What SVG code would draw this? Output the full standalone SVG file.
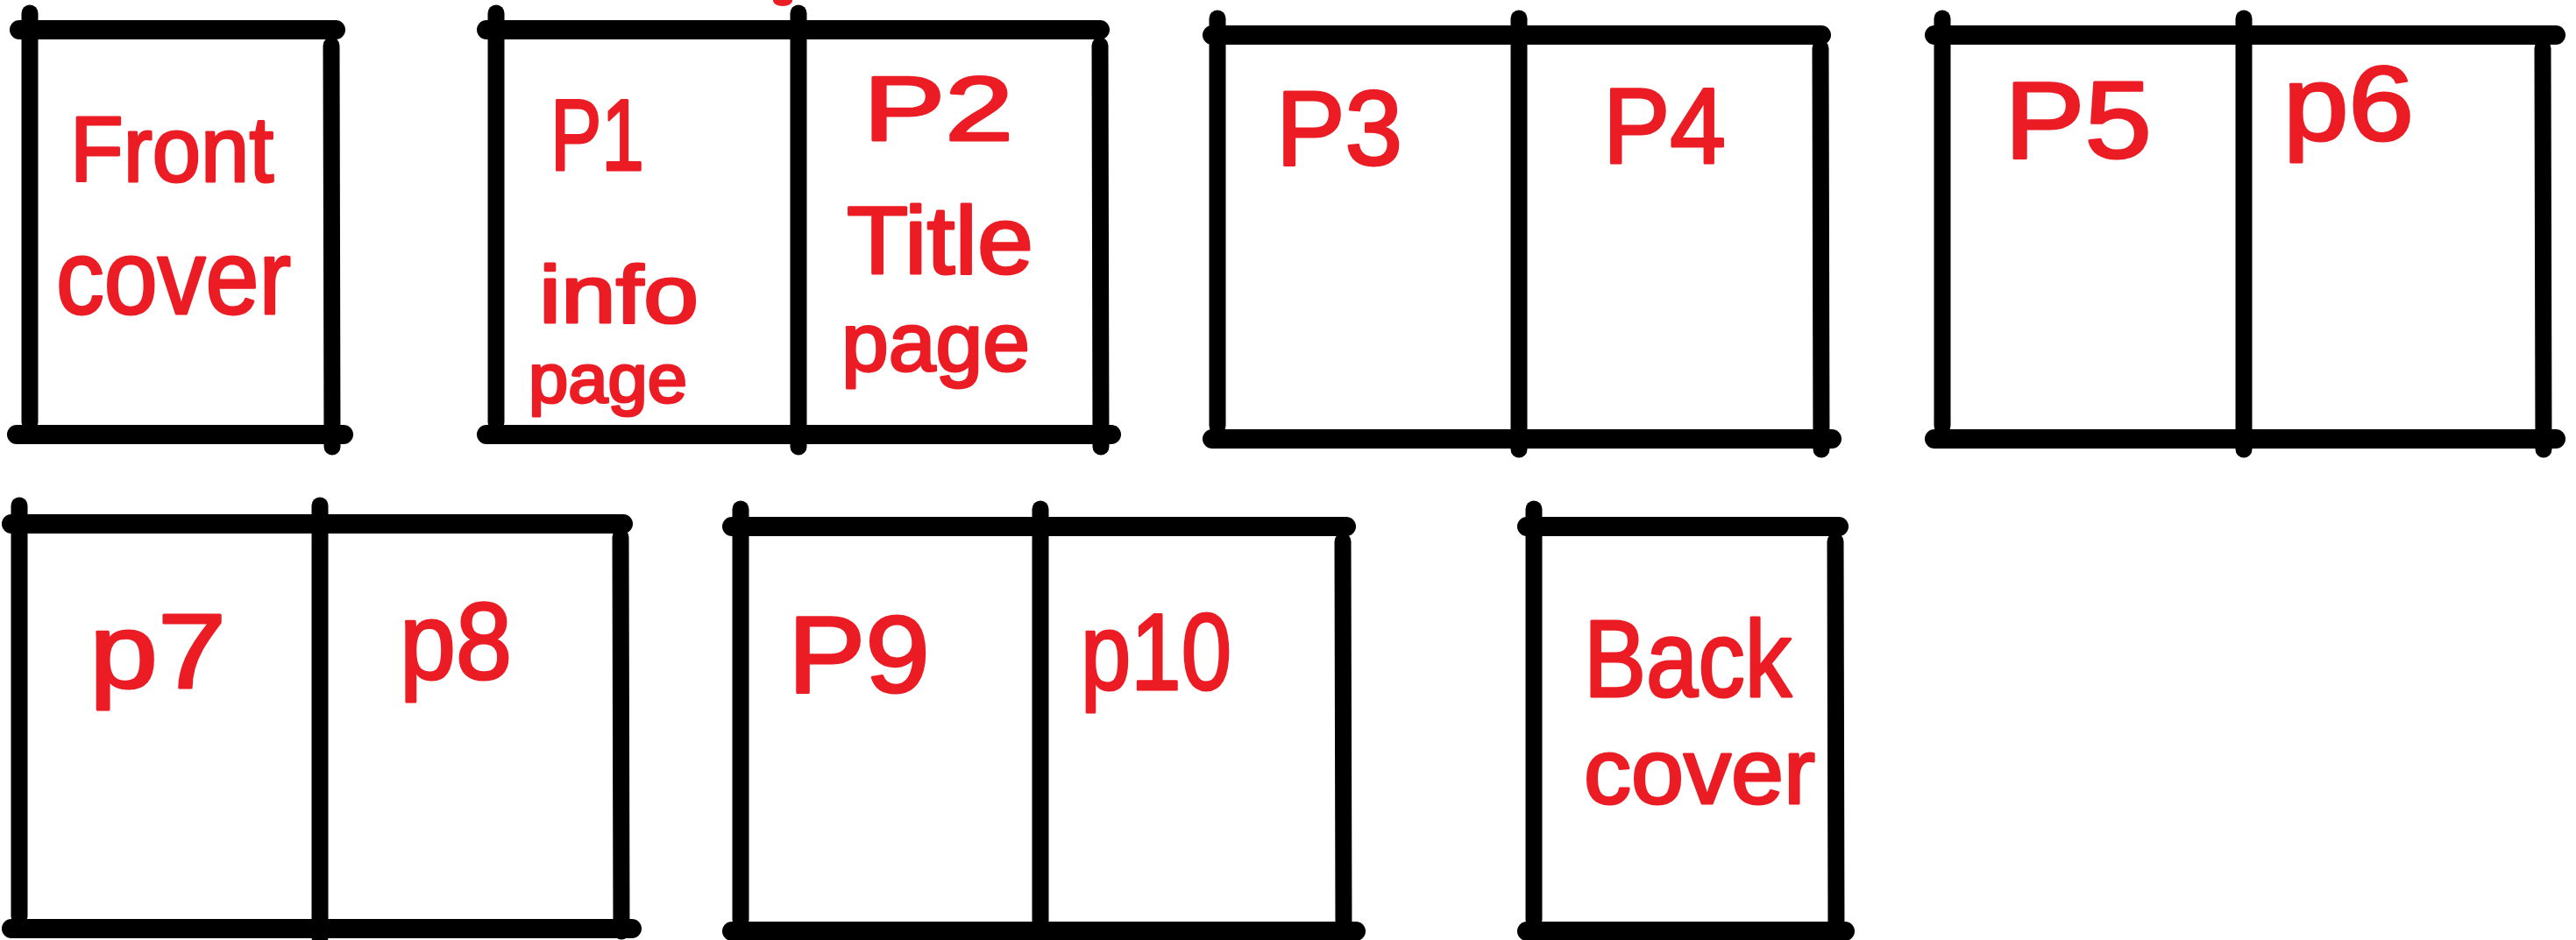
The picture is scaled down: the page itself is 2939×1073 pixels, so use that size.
<svg xmlns="http://www.w3.org/2000/svg" width="2939" height="1073" viewBox="0 0 2939 1073">
<style>
.h{stroke:#000;stroke-width:22;stroke-linecap:round;fill:none}
.v{stroke:#000;stroke-width:19;stroke-linecap:round;fill:none}
.t{fill:#ec1c24;stroke:#ec1c24;stroke-width:3;stroke-linejoin:round;font-family:"Liberation Sans","DejaVu Sans",sans-serif;font-weight:normal}
</style>
<rect width="2939" height="1073" fill="#fff"/>
<g id="front-cover">
<line class="h" x1="22" y1="34" x2="383" y2="34"/>
<line class="v" x1="34" y1="15" x2="34" y2="482"/>
<line class="v" x1="378" y1="52" x2="379" y2="510"/>
<line class="h" x1="19" y1="496" x2="392" y2="496"/>
<text class="t" x="80" y="207" font-size="105" textLength="232" lengthAdjust="spacingAndGlyphs">Front</text>
<text class="t" x="64" y="358" font-size="120" textLength="268" lengthAdjust="spacingAndGlyphs">cover</text>
</g>
<g id="spread-p1-p2">
<line class="h" x1="555" y1="34" x2="1255" y2="34"/>
<line class="v" x1="566" y1="15" x2="566" y2="482"/>
<line class="v" x1="911" y1="15" x2="911" y2="510"/>
<line class="v" x1="1255" y1="52" x2="1256" y2="510"/>
<line class="h" x1="555" y1="496" x2="1268" y2="496"/>
<ellipse cx="893" cy="1" rx="11" ry="6" fill="#ec1c24"/>
<text class="t" x="628" y="194" font-size="115" textLength="107" lengthAdjust="spacingAndGlyphs">P1</text>
<text class="t" x="615" y="368" font-size="92" textLength="182" lengthAdjust="spacingAndGlyphs">info</text>
<text class="t" x="603" y="459" font-size="78" textLength="181" lengthAdjust="spacingAndGlyphs">page</text>
<text class="t" x="985" y="160" font-size="103" textLength="171" lengthAdjust="spacingAndGlyphs">P2</text>
<text class="t" x="966" y="312" font-size="110" textLength="213" lengthAdjust="spacingAndGlyphs">Title</text>
<text class="t" x="960" y="423" font-size="95" textLength="215" lengthAdjust="spacingAndGlyphs">page</text>
</g>
<g id="spread-p3-p4">
<line class="h" x1="1383" y1="40" x2="2078" y2="40"/>
<line class="v" x1="1389" y1="21" x2="1389" y2="486"/>
<line class="v" x1="1733" y1="21" x2="1733" y2="513"/>
<line class="v" x1="2077" y1="55" x2="2078" y2="513"/>
<line class="h" x1="1383" y1="501" x2="2090" y2="501"/>
<text class="t" x="1456" y="188" font-size="120" textLength="144" lengthAdjust="spacingAndGlyphs">P3</text>
<text class="t" x="1829" y="186" font-size="122" textLength="140" lengthAdjust="spacingAndGlyphs">P4</text>
</g>
<g id="spread-p5-p6">
<line class="h" x1="2207" y1="40" x2="2916" y2="40"/>
<line class="v" x1="2216" y1="21" x2="2216" y2="486"/>
<line class="v" x1="2560" y1="21" x2="2560" y2="513"/>
<line class="v" x1="2901" y1="55" x2="2902" y2="513"/>
<line class="h" x1="2207" y1="501" x2="2916" y2="501"/>
<text class="t" x="2287" y="180" font-size="125" textLength="168" lengthAdjust="spacingAndGlyphs">P5</text>
<text class="t" x="2605" y="160" font-size="120" textLength="149" lengthAdjust="spacingAndGlyphs">p6</text>
</g>
<g id="spread-p7-p8">
<line class="h" x1="13" y1="598" x2="711" y2="598"/>
<line class="v" x1="22" y1="577" x2="22" y2="1046"/>
<line class="v" x1="365" y1="577" x2="365" y2="1070"/>
<line class="v" x1="708" y1="613" x2="709" y2="1063"/>
<line class="h" x1="13" y1="1060" x2="721" y2="1060"/>
<text class="t" x="102" y="785" font-size="120" textLength="156" lengthAdjust="spacingAndGlyphs">p7</text>
<text class="t" x="456" y="775" font-size="125" textLength="128" lengthAdjust="spacingAndGlyphs">p8</text>
</g>
<g id="spread-p9-p10">
<line class="h" x1="835" y1="601" x2="1536" y2="601"/>
<line class="v" x1="845" y1="581" x2="845" y2="1050"/>
<line class="v" x1="1187" y1="581" x2="1187" y2="1073"/>
<line class="v" x1="1532" y1="618" x2="1533" y2="1070"/>
<line class="h" x1="835" y1="1063" x2="1547" y2="1063"/>
<text class="t" x="899" y="790" font-size="125" textLength="162" lengthAdjust="spacingAndGlyphs">P9</text>
<text class="t" x="1233" y="787" font-size="125" textLength="172" lengthAdjust="spacingAndGlyphs">p10</text>
</g>
<g id="back-cover">
<line class="h" x1="1742" y1="601" x2="2098" y2="601"/>
<line class="v" x1="1750" y1="581" x2="1750" y2="1050"/>
<line class="v" x1="2094" y1="618" x2="2095" y2="1070"/>
<line class="h" x1="1742" y1="1063" x2="2105" y2="1063"/>
<text class="t" x="1807" y="795" font-size="125" textLength="237" lengthAdjust="spacingAndGlyphs">Back</text>
<text class="t" x="1807" y="917" font-size="105" textLength="264" lengthAdjust="spacingAndGlyphs">cover</text>
</g>
</svg>
